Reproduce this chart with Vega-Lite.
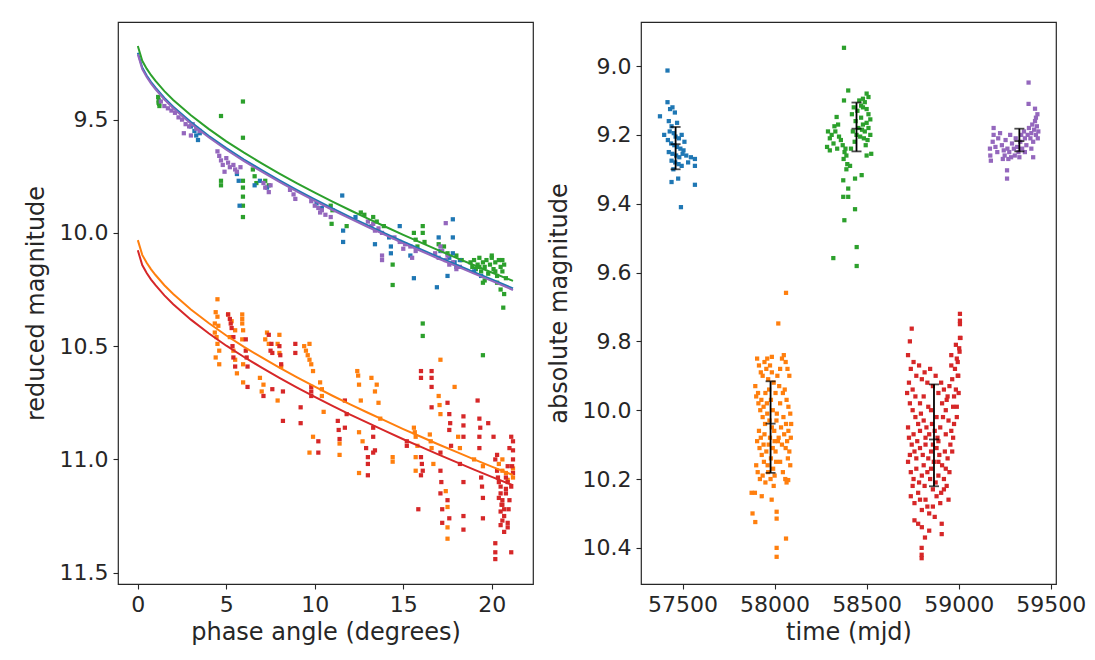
{
"$schema": "https://vega.github.io/schema/vega-lite/v6.json",
"background": "white",
"padding": {"left": 23, "top": 21, "right": 0, "bottom": 0},
"config": {
  "font": "DejaVu Sans",
  "view": {"stroke": "#262626", "strokeWidth": 1.2},
  "axis": {"grid": false, "domain": false, "tickColor": "#262626", "tickSize": 5, "tickWidth": 1.1,
    "labelFont": "DejaVu Sans", "labelFontSize": 22, "labelColor": "#262626", "labelPadding": 5,
    "titleFont": "DejaVu Sans", "titleFontSize": 24, "titleFontWeight": "normal", "titleColor": "#262626",
    "labelOverlap": false},
  "axisY": {"titlePadding": 11},
  "axisX": {"titlePadding": 5},
  "concat": {"spacing": 12}
},
"datasets": {
"lp": [
{"c":"g","a":1.15,"m":9.40},{"c":"g","a":1.18,"m":9.415},{"c":"g","a":1.2,"m":9.43},{"c":"g","a":1.22,"m":9.44},{"c":"g","a":1.17,"m":9.425},
{"c":"g","a":4.7,"m":9.484},{"c":"g","a":4.7,"m":9.77},{"c":"g","a":4.7,"m":9.79},
{"c":"g","a":5.94,"m":9.42},{"c":"g","a":5.94,"m":9.58},{"c":"g","a":5.94,"m":9.77},{"c":"g","a":5.94,"m":9.80},{"c":"g","a":5.94,"m":9.84},{"c":"g","a":5.94,"m":9.88},{"c":"g","a":5.94,"m":9.93},
{"c":"g","a":6.5,"m":9.72},{"c":"g","a":6.6,"m":9.75},{"c":"g","a":6.7,"m":9.78},{"c":"g","a":7.2,"m":9.77},{"c":"g","a":7.4,"m":9.79},
{"c":"g","a":10.9,"m":9.88},{"c":"g","a":11.0,"m":9.90},{"c":"g","a":10.95,"m":9.96},{"c":"g","a":11.8,"m":9.97},
{"c":"g","a":12.6,"m":9.91},{"c":"g","a":12.8,"m":9.92},{"c":"g","a":13.3,"m":9.93},{"c":"g","a":13.5,"m":9.95},{"c":"g","a":13.9,"m":9.97},
{"c":"g","a":14.4,"m":10.14},{"c":"g","a":14.4,"m":10.23},
{"c":"g","a":15.6,"m":10.0},{"c":"g","a":15.7,"m":10.03},{"c":"g","a":15.8,"m":10.06},{"c":"g","a":16.1,"m":9.97},{"c":"g","a":16.1,"m":10.0},{"c":"g","a":16.2,"m":10.04},{"c":"g","a":16.1,"m":10.40},{"c":"g","a":16.1,"m":10.455},
{"c":"g","a":17.0,"m":10.05},{"c":"g","a":17.3,"m":10.06},{"c":"g","a":17.5,"m":10.09},{"c":"g","a":18.0,"m":10.1},{"c":"g","a":18.3,"m":10.12},
{"c":"g","a":18.8,"m":10.13},{"c":"g","a":18.9,"m":10.15},{"c":"g","a":19.0,"m":10.12},{"c":"g","a":19.1,"m":10.16},{"c":"g","a":19.2,"m":10.14},{"c":"g","a":19.3,"m":10.11},{"c":"g","a":19.4,"m":10.17},{"c":"g","a":19.5,"m":10.13},{"c":"g","a":19.6,"m":10.15},{"c":"g","a":19.7,"m":10.12},{"c":"g","a":19.8,"m":10.18},{"c":"g","a":19.9,"m":10.14},{"c":"g","a":20.0,"m":10.11},{"c":"g","a":20.1,"m":10.16},{"c":"g","a":20.2,"m":10.13},{"c":"g","a":20.3,"m":10.19},{"c":"g","a":20.4,"m":10.12},{"c":"g","a":20.5,"m":10.15},{"c":"g","a":20.6,"m":10.17},{"c":"g","a":20.7,"m":10.14},{"c":"g","a":20.8,"m":10.20},{"c":"g","a":20.3,"m":10.22},{"c":"g","a":19.6,"m":10.21},{"c":"g","a":20.5,"m":10.25},{"c":"g","a":20.7,"m":10.27},{"c":"g","a":20.65,"m":10.33},{"c":"g","a":20.0,"m":10.10},{"c":"g","a":19.5,"m":10.54},{"c":"g","a":19.5,"m":10.22},{"c":"g","a":20.2,"m":10.17},{"c":"g","a":19.3,"m":10.15},{"c":"g","a":20.6,"m":10.12},
{"c":"b","a":3.0,"m":9.53},{"c":"b","a":3.2,"m":9.55},{"c":"b","a":3.3,"m":9.57},{"c":"b","a":3.4,"m":9.59},{"c":"b","a":3.5,"m":9.56},
{"c":"b","a":5.6,"m":9.74},{"c":"b","a":5.7,"m":9.77},{"c":"b","a":5.75,"m":9.88},{"c":"b","a":6.6,"m":9.79},{"c":"b","a":6.9,"m":9.77},{"c":"b","a":7.3,"m":9.80},
{"c":"b","a":10.1,"m":9.87},{"c":"b","a":10.4,"m":9.89},{"c":"b","a":11.55,"m":9.835},{"c":"b","a":11.6,"m":9.99},{"c":"b","a":11.6,"m":10.04},
{"c":"b","a":12.3,"m":9.93},{"c":"b","a":13.4,"m":10.05},{"c":"b","a":14.2,"m":10.02},{"c":"b","a":14.3,"m":10.06},{"c":"b","a":14.3,"m":10.09},{"c":"b","a":14.8,"m":9.97},{"c":"b","a":15.6,"m":10.20},{"c":"b","a":15.4,"m":10.1},
{"c":"b","a":16.9,"m":10.24},{"c":"b","a":17.0,"m":10.02},{"c":"b","a":17.1,"m":10.08},{"c":"b","a":17.5,"m":10.19},{"c":"b","a":17.8,"m":9.94},{"c":"b","a":17.8,"m":10.02},{"c":"b","a":17.8,"m":10.09},{"c":"b","a":17.6,"m":10.11},{"c":"b","a":17.9,"m":10.13},{"c":"b","a":18.0,"m":10.15},{"c":"b","a":18.2,"m":10.12},{"c":"b","a":19.0,"m":10.17},{"c":"b","a":19.4,"m":10.19},
{"c":"p","a":1.3,"m":9.42},{"c":"p","a":1.5,"m":9.44},{"c":"p","a":1.7,"m":9.45},{"c":"p","a":1.9,"m":9.46},{"c":"p","a":2.1,"m":9.47},{"c":"p","a":2.3,"m":9.49},{"c":"p","a":2.5,"m":9.50},{"c":"p","a":2.7,"m":9.52},{"c":"p","a":2.9,"m":9.53},{"c":"p","a":3.1,"m":9.52},{"c":"p","a":3.3,"m":9.54},{"c":"p","a":3.5,"m":9.55},{"c":"p","a":2.6,"m":9.56},{"c":"p","a":3.0,"m":9.57},
{"c":"p","a":4.5,"m":9.64},{"c":"p","a":4.6,"m":9.66},{"c":"p","a":4.7,"m":9.68},{"c":"p","a":4.8,"m":9.70},{"c":"p","a":5.0,"m":9.67},{"c":"p","a":5.1,"m":9.69},{"c":"p","a":5.2,"m":9.71},{"c":"p","a":5.4,"m":9.70},{"c":"p","a":5.5,"m":9.72},{"c":"p","a":5.6,"m":9.73},{"c":"p","a":5.8,"m":9.71},{"c":"p","a":4.9,"m":9.73},
{"c":"p","a":7.1,"m":9.78},{"c":"p","a":7.2,"m":9.80},{"c":"p","a":7.4,"m":9.82},{"c":"p","a":7.5,"m":9.79},
{"c":"p","a":8.6,"m":9.81},{"c":"p","a":8.8,"m":9.83},{"c":"p","a":8.9,"m":9.85},
{"c":"p","a":9.8,"m":9.86},{"c":"p","a":10.0,"m":9.88},{"c":"p","a":10.2,"m":9.89},{"c":"p","a":10.4,"m":9.90},{"c":"p","a":10.6,"m":9.92},{"c":"p","a":10.9,"m":9.93},{"c":"p","a":10.3,"m":9.91},
{"c":"p","a":13.0,"m":9.95},{"c":"p","a":13.2,"m":9.97},{"c":"p","a":13.4,"m":9.99},{"c":"p","a":13.6,"m":9.98},{"c":"p","a":13.8,"m":10.0},{"c":"p","a":13.3,"m":9.96},{"c":"p","a":13.8,"m":10.1},{"c":"p","a":13.8,"m":10.12},
{"c":"p","a":14.5,"m":10.02},{"c":"p","a":14.8,"m":10.04},{"c":"p","a":15.1,"m":10.05},{"c":"p","a":15.4,"m":10.06},{"c":"p","a":15.7,"m":10.08},{"c":"p","a":15.0,"m":10.07},{"c":"p","a":15.5,"m":10.11},
{"c":"p","a":16.8,"m":10.09},{"c":"p","a":17.0,"m":10.11},{"c":"p","a":17.2,"m":10.08},{"c":"p","a":17.4,"m":10.12},{"c":"p","a":17.6,"m":10.14},{"c":"p","a":17.8,"m":10.13},{"c":"p","a":18.0,"m":10.16},{"c":"p","a":18.2,"m":10.15},{"c":"p","a":17.5,"m":10.10},{"c":"p","a":17.1,"m":10.06},{"c":"p","a":17.4,"m":9.957},
{"c":"o","a":4.5,"m":10.293},{"c":"o","a":4.4,"m":10.35},{"c":"o","a":4.5,"m":10.37},{"c":"o","a":4.35,"m":10.40},{"c":"o","a":4.35,"m":10.44},{"c":"o","a":4.5,"m":10.49},{"c":"o","a":4.6,"m":10.52},{"c":"o","a":4.4,"m":10.55},{"c":"o","a":4.6,"m":10.58},
{"c":"o","a":5.1,"m":10.36},{"c":"o","a":5.3,"m":10.39},{"c":"o","a":5.5,"m":10.43},{"c":"o","a":5.4,"m":10.52},{"c":"o","a":5.5,"m":10.56},{"c":"o","a":5.6,"m":10.62},
{"c":"o","a":5.9,"m":10.36},{"c":"o","a":5.9,"m":10.38},{"c":"o","a":5.9,"m":10.40},{"c":"o","a":5.9,"m":10.47},{"c":"o","a":5.95,"m":10.58},{"c":"o","a":5.95,"m":10.66},
{"c":"o","a":6.9,"m":10.64},{"c":"o","a":7.1,"m":10.67},{"c":"o","a":7.0,"m":10.70},{"c":"o","a":7.3,"m":10.44},{"c":"o","a":7.4,"m":10.49},
{"c":"o","a":7.9,"m":10.49},{"c":"o","a":8.0,"m":10.53},{"c":"o","a":8.1,"m":10.59},{"c":"o","a":7.9,"m":10.74},
{"c":"o","a":9.4,"m":10.50},{"c":"o","a":9.6,"m":10.54},{"c":"o","a":9.8,"m":10.58},{"c":"o","a":9.9,"m":10.61},{"c":"o","a":9.7,"m":10.49},{"c":"o","a":9.7,"m":10.97},{"c":"o","a":9.9,"m":10.90},
{"c":"o","a":10.3,"m":10.66},{"c":"o","a":10.4,"m":10.72},{"c":"o","a":10.5,"m":10.79},
{"c":"o","a":11.4,"m":10.93},{"c":"o","a":11.4,"m":10.98},
{"c":"o","a":12.4,"m":10.61},{"c":"o","a":12.5,"m":10.67},{"c":"o","a":12.6,"m":10.74},{"c":"o","a":12.5,"m":10.88},{"c":"o","a":12.7,"m":10.92},{"c":"o","a":12.5,"m":11.06},
{"c":"o","a":13.2,"m":10.64},{"c":"o","a":13.4,"m":10.70},{"c":"o","a":13.6,"m":10.75},{"c":"o","a":13.7,"m":10.82},
{"c":"o","a":14.4,"m":10.99},{"c":"o","a":14.4,"m":11.01},
{"c":"o","a":15.6,"m":10.86},{"c":"o","a":15.7,"m":10.90},{"c":"o","a":15.8,"m":10.94},{"c":"o","a":15.7,"m":10.99},{"c":"o","a":15.7,"m":11.05},
{"c":"o","a":16.5,"m":10.89},{"c":"o","a":16.6,"m":10.95},{"c":"o","a":16.7,"m":11.02},
{"c":"o","a":17.1,"m":10.56},{"c":"o","a":17.0,"m":10.72},{"c":"o","a":17.1,"m":10.80},
{"c":"o","a":17.4,"m":11.14},{"c":"o","a":17.5,"m":11.21},{"c":"o","a":17.5,"m":11.30},{"c":"o","a":17.5,"m":11.35},
{"c":"o","a":17.9,"m":10.68},{"c":"o","a":18.1,"m":10.90},{"c":"o","a":18.2,"m":10.95},
{"c":"o","a":19.0,"m":11.0},{"c":"o","a":19.5,"m":11.03},{"c":"o","a":20.4,"m":11.02},{"c":"o","a":20.8,"m":11.06},{"c":"o","a":21.2,"m":11.08},{"c":"o","a":20.6,"m":11.05},
{"c":"o","a":4.45,"m":10.46},{"c":"o","a":4.55,"m":10.41},{"c":"o","a":5.2,"m":10.46},{"c":"o","a":5.95,"m":10.43},{"c":"o","a":7.2,"m":10.47},{"c":"o","a":8.0,"m":10.45},{"c":"o","a":9.5,"m":10.52},{"c":"o","a":9.7,"m":10.56},{"c":"o","a":10.4,"m":10.69},{"c":"o","a":12.45,"m":10.63},{"c":"o","a":13.5,"m":10.67},{"c":"o","a":15.65,"m":10.88},{"c":"o","a":16.55,"m":10.92},{"c":"o","a":17.05,"m":10.76},{"c":"o","a":20.6,"m":11.0},{"c":"o","a":21.2,"m":11.04},{"c":"o","a":20.9,"m":11.09},
{"c":"r","a":5.1,"m":10.36},{"c":"r","a":5.2,"m":10.38},{"c":"r","a":5.3,"m":10.42},{"c":"r","a":5.4,"m":10.46},{"c":"r","a":5.4,"m":10.55},{"c":"r","a":5.5,"m":10.59},
{"c":"r","a":6.1,"m":10.47},{"c":"r","a":6.1,"m":10.52},{"c":"r","a":6.2,"m":10.59},{"c":"r","a":6.2,"m":10.68},
{"c":"r","a":7.1,"m":10.72},{"c":"r","a":7.4,"m":10.45},{"c":"r","a":7.5,"m":10.52},{"c":"r","a":7.6,"m":10.53},{"c":"r","a":7.6,"m":10.69},
{"c":"r","a":8.0,"m":10.50},{"c":"r","a":8.1,"m":10.58},{"c":"r","a":8.2,"m":10.70},{"c":"r","a":8.2,"m":10.83},
{"c":"r","a":8.9,"m":10.49},{"c":"r","a":8.9,"m":10.53},{"c":"r","a":9.2,"m":10.77},{"c":"r","a":9.2,"m":10.84},
{"c":"r","a":9.8,"m":10.68},{"c":"r","a":9.8,"m":10.72},{"c":"r","a":10.2,"m":10.92},{"c":"r","a":10.2,"m":10.97},
{"c":"r","a":11.3,"m":10.83},{"c":"r","a":11.4,"m":10.91},{"c":"r","a":11.7,"m":10.74},{"c":"r","a":11.8,"m":10.80},{"c":"r","a":11.7,"m":10.86},
{"c":"r","a":12.9,"m":10.95},{"c":"r","a":13.0,"m":11.02},{"c":"r","a":13.0,"m":11.07},
{"c":"r","a":13.3,"m":10.90},{"c":"r","a":13.3,"m":10.97},{"c":"r","a":13.3,"m":10.86},{"c":"r","a":13.4,"m":10.96},
{"c":"r","a":15.2,"m":10.92},{"c":"r","a":15.2,"m":10.94},{"c":"r","a":15.85,"m":11.22},
{"c":"r","a":16.0,"m":10.61},{"c":"r","a":16.0,"m":10.64},{"c":"r","a":16.0,"m":10.99},{"c":"r","a":16.0,"m":11.07},{"c":"r","a":16.1,"m":11.05},
{"c":"r","a":16.6,"m":10.61},{"c":"r","a":16.6,"m":10.64},{"c":"r","a":16.6,"m":10.68},{"c":"r","a":16.6,"m":10.77},
{"c":"r","a":17.1,"m":10.97},{"c":"r","a":17.1,"m":11.05},{"c":"r","a":17.1,"m":11.15},{"c":"r","a":17.2,"m":11.22},{"c":"r","a":17.2,"m":11.28},
{"c":"r","a":17.5,"m":10.75},{"c":"r","a":17.6,"m":10.80},{"c":"r","a":17.6,"m":10.87},{"c":"r","a":17.7,"m":10.94},{"c":"r","a":17.5,"m":11.18},{"c":"r","a":17.6,"m":11.26},
{"c":"r","a":18.2,"m":11.02},{"c":"r","a":18.4,"m":10.81},{"c":"r","a":18.4,"m":10.90},{"c":"r","a":18.4,"m":11.10},{"c":"r","a":18.4,"m":11.25},{"c":"r","a":18.4,"m":11.31},
{"c":"r","a":19.2,"m":10.74},{"c":"r","a":19.3,"m":10.82},{"c":"r","a":19.3,"m":10.90},{"c":"r","a":19.3,"m":10.95},{"c":"r","a":19.4,"m":11.08},{"c":"r","a":19.5,"m":11.17},{"c":"r","a":19.5,"m":11.26},{"c":"r","a":19.8,"m":10.84},
{"c":"r","a":20.2,"m":11.37},{"c":"r","a":20.2,"m":11.41},{"c":"r","a":20.2,"m":11.44},{"c":"r","a":21.1,"m":11.41},{"c":"r","a":20.9,"m":11.28},{"c":"r","a":20.9,"m":11.30},
{"c":"r","a":20.1,"m":10.9},{"c":"r","a":20.2,"m":11.0},{"c":"r","a":20.3,"m":11.05},{"c":"r","a":20.4,"m":11.1},{"c":"r","a":20.5,"m":11.12},{"c":"r","a":20.5,"m":11.15},{"c":"r","a":20.6,"m":11.18},{"c":"r","a":20.6,"m":11.2},{"c":"r","a":20.7,"m":11.22},{"c":"r","a":20.7,"m":11.25},{"c":"r","a":20.8,"m":11.13},{"c":"r","a":20.8,"m":11.08},{"c":"r","a":20.9,"m":11.03},{"c":"r","a":21.0,"m":10.95},{"c":"r","a":21.1,"m":10.9},{"c":"r","a":21.2,"m":10.92},{"c":"r","a":21.2,"m":11.0},{"c":"r","a":21.2,"m":11.06},{"c":"r","a":21.1,"m":11.12},{"c":"r","a":20.4,"m":11.17},{"c":"r","a":20.6,"m":11.27},{"c":"r","a":20.5,"m":11.23},{"c":"r","a":21.0,"m":11.18},{"c":"r","a":20.3,"m":10.98},{"c":"r","a":20.9,"m":11.1},
{"c":"r","a":5.25,"m":10.4},{"c":"r","a":5.35,"m":10.5},{"c":"r","a":6.15,"m":10.55},{"c":"r","a":7.55,"m":10.49},{"c":"r","a":8.05,"m":10.54},{"c":"r","a":9.8,"m":10.70},{"c":"r","a":11.35,"m":10.87},{"c":"r","a":13.0,"m":10.99},{"c":"r","a":16.05,"m":11.02},{"c":"r","a":17.15,"m":11.1},{"c":"r","a":17.65,"m":10.84},{"c":"r","a":18.4,"m":10.85},{"c":"r","a":19.35,"m":10.86},{"c":"r","a":19.45,"m":11.12},{"c":"r","a":20.35,"m":11.08},{"c":"r","a":20.55,"m":11.2},{"c":"r","a":20.8,"m":11.15},{"c":"r","a":21.2,"m":10.96},{"c":"r","a":21.15,"m":11.03},{"c":"r","a":20.95,"m":11.22},{"c":"r","a":20.5,"m":11.29},{"c":"r","a":20.7,"m":11.32}
],
"fit": [
{"c":"b","a":0,"m":9.205},{"c":"b","a":0.25,"m":9.270},{"c":"b","a":0.5,"m":9.305},{"c":"b","a":0.75,"m":9.334},{"c":"b","a":1,"m":9.359},{"c":"b","a":1.5,"m":9.404},{"c":"b","a":2,"m":9.443},{"c":"b","a":3,"m":9.511},{"c":"b","a":4,"m":9.571},{"c":"b","a":5,"m":9.626},{"c":"b","a":6,"m":9.676},{"c":"b","a":7,"m":9.723},{"c":"b","a":8,"m":9.768},{"c":"b","a":9,"m":9.811},{"c":"b","a":10,"m":9.852},{"c":"b","a":11,"m":9.892},{"c":"b","a":12,"m":9.930},{"c":"b","a":13,"m":9.967},{"c":"b","a":14,"m":10.003},{"c":"b","a":15,"m":10.039},{"c":"b","a":16,"m":10.073},{"c":"b","a":17,"m":10.107},{"c":"b","a":18,"m":10.140},{"c":"b","a":19,"m":10.173},{"c":"b","a":20,"m":10.205},{"c":"b","a":21.2,"m":10.245},
{"c":"o","a":0,"m":10.032},{"c":"o","a":0.25,"m":10.097},{"c":"o","a":0.5,"m":10.132},{"c":"o","a":0.75,"m":10.161},{"c":"o","a":1,"m":10.186},{"c":"o","a":1.5,"m":10.231},{"c":"o","a":2,"m":10.270},{"c":"o","a":3,"m":10.338},{"c":"o","a":4,"m":10.398},{"c":"o","a":5,"m":10.453},{"c":"o","a":6,"m":10.503},{"c":"o","a":7,"m":10.550},{"c":"o","a":8,"m":10.595},{"c":"o","a":9,"m":10.638},{"c":"o","a":10,"m":10.679},{"c":"o","a":11,"m":10.719},{"c":"o","a":12,"m":10.757},{"c":"o","a":13,"m":10.794},{"c":"o","a":14,"m":10.830},{"c":"o","a":15,"m":10.866},{"c":"o","a":16,"m":10.900},{"c":"o","a":17,"m":10.934},{"c":"o","a":18,"m":10.967},{"c":"o","a":19,"m":11.000},{"c":"o","a":20,"m":11.032},{"c":"o","a":21.2,"m":11.069},
{"c":"g","a":0,"m":9.175},{"c":"g","a":0.25,"m":9.240},{"c":"g","a":0.5,"m":9.275},{"c":"g","a":0.75,"m":9.304},{"c":"g","a":1,"m":9.329},{"c":"g","a":1.5,"m":9.374},{"c":"g","a":2,"m":9.413},{"c":"g","a":3,"m":9.481},{"c":"g","a":4,"m":9.541},{"c":"g","a":5,"m":9.596},{"c":"g","a":6,"m":9.646},{"c":"g","a":7,"m":9.693},{"c":"g","a":8,"m":9.738},{"c":"g","a":9,"m":9.781},{"c":"g","a":10,"m":9.822},{"c":"g","a":11,"m":9.862},{"c":"g","a":12,"m":9.900},{"c":"g","a":13,"m":9.937},{"c":"g","a":14,"m":9.973},{"c":"g","a":15,"m":10.009},{"c":"g","a":16,"m":10.043},{"c":"g","a":17,"m":10.077},{"c":"g","a":18,"m":10.110},{"c":"g","a":19,"m":10.143},{"c":"g","a":20,"m":10.175},{"c":"g","a":21.2,"m":10.212},
{"c":"r","a":0,"m":10.077},{"c":"r","a":0.25,"m":10.142},{"c":"r","a":0.5,"m":10.177},{"c":"r","a":0.75,"m":10.206},{"c":"r","a":1,"m":10.231},{"c":"r","a":1.5,"m":10.276},{"c":"r","a":2,"m":10.315},{"c":"r","a":3,"m":10.383},{"c":"r","a":4,"m":10.443},{"c":"r","a":5,"m":10.498},{"c":"r","a":6,"m":10.548},{"c":"r","a":7,"m":10.595},{"c":"r","a":8,"m":10.640},{"c":"r","a":9,"m":10.683},{"c":"r","a":10,"m":10.724},{"c":"r","a":11,"m":10.764},{"c":"r","a":12,"m":10.802},{"c":"r","a":13,"m":10.839},{"c":"r","a":14,"m":10.875},{"c":"r","a":15,"m":10.911},{"c":"r","a":16,"m":10.945},{"c":"r","a":17,"m":10.979},{"c":"r","a":18,"m":11.012},{"c":"r","a":19,"m":11.045},{"c":"r","a":20,"m":11.077},{"c":"r","a":21.2,"m":11.114},
{"c":"p","a":0,"m":9.212},{"c":"p","a":0.25,"m":9.277},{"c":"p","a":0.5,"m":9.312},{"c":"p","a":0.75,"m":9.341},{"c":"p","a":1,"m":9.366},{"c":"p","a":1.5,"m":9.411},{"c":"p","a":2,"m":9.450},{"c":"p","a":3,"m":9.518},{"c":"p","a":4,"m":9.578},{"c":"p","a":5,"m":9.633},{"c":"p","a":6,"m":9.683},{"c":"p","a":7,"m":9.730},{"c":"p","a":8,"m":9.775},{"c":"p","a":9,"m":9.818},{"c":"p","a":10,"m":9.859},{"c":"p","a":11,"m":9.899},{"c":"p","a":12,"m":9.937},{"c":"p","a":13,"m":9.974},{"c":"p","a":14,"m":10.010},{"c":"p","a":15,"m":10.046},{"c":"p","a":16,"m":10.080},{"c":"p","a":17,"m":10.114},{"c":"p","a":18,"m":10.147},{"c":"p","a":19,"m":10.180},{"c":"p","a":20,"m":10.212},{"c":"p","a":21.2,"m":10.252}
],
"rp": [
{"c":"b","t":57418,"m":9.013},{"c":"b","t":57377,"m":9.146},{"c":"b","t":57418,"m":9.105},{"c":"b","t":57432,"m":9.125},{"c":"b","t":57445,"m":9.12},{"c":"b","t":57458,"m":9.135},{"c":"b","t":57425,"m":9.16},{"c":"b","t":57440,"m":9.175},{"c":"b","t":57470,"m":9.165},{"c":"b","t":57430,"m":9.19},{"c":"b","t":57452,"m":9.195},{"c":"b","t":57462,"m":9.205},{"c":"b","t":57480,"m":9.21},{"c":"b","t":57495,"m":9.20},{"c":"b","t":57420,"m":9.215},{"c":"b","t":57438,"m":9.225},{"c":"b","t":57455,"m":9.23},{"c":"b","t":57470,"m":9.235},{"c":"b","t":57488,"m":9.24},{"c":"b","t":57505,"m":9.245},{"c":"b","t":57425,"m":9.25},{"c":"b","t":57445,"m":9.255},{"c":"b","t":57465,"m":9.26},{"c":"b","t":57482,"m":9.265},{"c":"b","t":57500,"m":9.255},{"c":"b","t":57520,"m":9.26},{"c":"b","t":57440,"m":9.275},{"c":"b","t":57460,"m":9.28},{"c":"b","t":57478,"m":9.285},{"c":"b","t":57495,"m":9.29},{"c":"b","t":57545,"m":9.265},{"c":"b","t":57567,"m":9.27},{"c":"b","t":57567,"m":9.29},{"c":"b","t":57530,"m":9.28},{"c":"b","t":57440,"m":9.337},{"c":"b","t":57476,"m":9.327},{"c":"b","t":57567,"m":9.345},{"c":"b","t":57491,"m":9.41},{"c":"b","t":57450,"m":9.30},{"c":"b","t":57510,"m":9.22},{"c":"b","t":57400,"m":9.2},
{"c":"g","t":58377,"m":8.947},{"c":"g","t":58400,"m":9.071},{"c":"g","t":58377,"m":9.10},{"c":"g","t":58337,"m":9.148},{"c":"g","t":58290,"m":9.19},{"c":"g","t":58300,"m":9.21},{"c":"g","t":58310,"m":9.2},{"c":"g","t":58320,"m":9.225},{"c":"g","t":58330,"m":9.19},{"c":"g","t":58340,"m":9.24},{"c":"g","t":58350,"m":9.205},{"c":"g","t":58360,"m":9.215},{"c":"g","t":58370,"m":9.23},{"c":"g","t":58285,"m":9.235},{"c":"g","t":58300,"m":9.245},{"c":"g","t":58345,"m":9.17},{"c":"g","t":58325,"m":9.175},{"c":"g","t":58380,"m":9.25},{"c":"g","t":58390,"m":9.26},{"c":"g","t":58375,"m":9.27},{"c":"g","t":58395,"m":9.285},{"c":"g","t":58385,"m":9.24},{"c":"g","t":58420,"m":9.14},{"c":"g","t":58430,"m":9.12},{"c":"g","t":58440,"m":9.16},{"c":"g","t":58450,"m":9.13},{"c":"g","t":58460,"m":9.10},{"c":"g","t":58470,"m":9.115},{"c":"g","t":58480,"m":9.095},{"c":"g","t":58490,"m":9.105},{"c":"g","t":58500,"m":9.125},{"c":"g","t":58510,"m":9.14},{"c":"g","t":58520,"m":9.155},{"c":"g","t":58470,"m":9.15},{"c":"g","t":58480,"m":9.17},{"c":"g","t":58490,"m":9.19},{"c":"g","t":58500,"m":9.165},{"c":"g","t":58510,"m":9.18},{"c":"g","t":58520,"m":9.2},{"c":"g","t":58505,"m":9.215},{"c":"g","t":58495,"m":9.23},{"c":"g","t":58485,"m":9.21},{"c":"g","t":58475,"m":9.185},{"c":"g","t":58465,"m":9.205},{"c":"g","t":58455,"m":9.18},{"c":"g","t":58445,"m":9.2},{"c":"g","t":58435,"m":9.22},{"c":"g","t":58425,"m":9.19},{"c":"g","t":58415,"m":9.24},{"c":"g","t":58525,"m":9.255},{"c":"g","t":58500,"m":9.26},{"c":"g","t":58510,"m":9.09},{"c":"g","t":58500,"m":9.08},{"c":"g","t":58480,"m":9.12},{"c":"g","t":58373,"m":9.332},{"c":"g","t":58437,"m":9.327},{"c":"g","t":58473,"m":9.317},{"c":"g","t":58400,"m":9.356},{"c":"g","t":58400,"m":9.38},{"c":"g","t":58373,"m":9.38},{"c":"g","t":58437,"m":9.416},{"c":"g","t":58379,"m":9.448},{"c":"g","t":58446,"m":9.526},{"c":"g","t":58319,"m":9.558},{"c":"g","t":58446,"m":9.581},{"c":"g","t":58410,"m":9.29},{"c":"g","t":58390,"m":9.3},
{"c":"p","t":59170,"m":9.24},{"c":"p","t":59172,"m":9.26},{"c":"p","t":59175,"m":9.275},{"c":"p","t":59185,"m":9.22},{"c":"p","t":59190,"m":9.2},{"c":"p","t":59200,"m":9.235},{"c":"p","t":59210,"m":9.25},{"c":"p","t":59215,"m":9.21},{"c":"p","t":59225,"m":9.195},{"c":"p","t":59235,"m":9.23},{"c":"p","t":59245,"m":9.245},{"c":"p","t":59250,"m":9.26},{"c":"p","t":59255,"m":9.215},{"c":"p","t":59265,"m":9.24},{"c":"p","t":59270,"m":9.27},{"c":"p","t":59275,"m":9.25},{"c":"p","t":59280,"m":9.2},{"c":"p","t":59290,"m":9.225},{"c":"p","t":59300,"m":9.24},{"c":"p","t":59305,"m":9.26},{"c":"p","t":59310,"m":9.21},{"c":"p","t":59318,"m":9.235},{"c":"p","t":59325,"m":9.25},{"c":"p","t":59335,"m":9.22},{"c":"p","t":59340,"m":9.2},{"c":"p","t":59345,"m":9.24},{"c":"p","t":59355,"m":9.19},{"c":"p","t":59360,"m":9.21},{"c":"p","t":59368,"m":9.23},{"c":"p","t":59375,"m":9.2},{"c":"p","t":59382,"m":9.18},{"c":"p","t":59390,"m":9.21},{"c":"p","t":59395,"m":9.195},{"c":"p","t":59400,"m":9.17},{"c":"p","t":59405,"m":9.22},{"c":"p","t":59410,"m":9.185},{"c":"p","t":59415,"m":9.16},{"c":"p","t":59420,"m":9.2},{"c":"p","t":59425,"m":9.175},{"c":"p","t":59430,"m":9.21},{"c":"p","t":59433,"m":9.19},{"c":"p","t":59420,"m":9.15},{"c":"p","t":59428,"m":9.14},{"c":"p","t":59380,"m":9.048},{"c":"p","t":59380,"m":9.11},{"c":"p","t":59415,"m":9.124},{"c":"p","t":59263,"m":9.303},{"c":"p","t":59263,"m":9.327},{"c":"p","t":59190,"m":9.18},{"c":"p","t":59240,"m":9.27},{"c":"p","t":59285,"m":9.265},{"c":"p","t":59330,"m":9.265},{"c":"p","t":59360,"m":9.25},{"c":"p","t":59395,"m":9.24},{"c":"p","t":59405,"m":9.265},
{"c":"o","t":57905,"m":9.85},{"c":"o","t":57915,"m":9.87},{"c":"o","t":57925,"m":9.89},{"c":"o","t":57935,"m":9.90},{"c":"o","t":57945,"m":9.86},{"c":"o","t":57955,"m":9.88},{"c":"o","t":57965,"m":9.91},{"c":"o","t":57975,"m":9.87},{"c":"o","t":57985,"m":9.89},{"c":"o","t":57995,"m":9.92},{"c":"o","t":58005,"m":9.95},{"c":"o","t":58015,"m":9.90},{"c":"o","t":58025,"m":9.93},{"c":"o","t":58040,"m":9.85},{"c":"o","t":58050,"m":9.84},{"c":"o","t":58060,"m":9.86},{"c":"o","t":58070,"m":9.88},{"c":"o","t":58080,"m":9.90},{"c":"o","t":58055,"m":9.94},{"c":"o","t":58065,"m":9.97},{"c":"o","t":58075,"m":9.99},{"c":"o","t":58085,"m":10.01},{"c":"o","t":57900,"m":9.96},{"c":"o","t":57912,"m":9.98},{"c":"o","t":57922,"m":10.0},{"c":"o","t":57935,"m":10.02},{"c":"o","t":57948,"m":10.04},{"c":"o","t":57960,"m":10.01},{"c":"o","t":57972,"m":10.03},{"c":"o","t":57985,"m":10.05},{"c":"o","t":57998,"m":10.06},{"c":"o","t":58010,"m":10.03},{"c":"o","t":58022,"m":10.08},{"c":"o","t":58035,"m":10.05},{"c":"o","t":58048,"m":10.02},{"c":"o","t":58062,"m":10.04},{"c":"o","t":58075,"m":10.06},{"c":"o","t":58088,"m":10.08},{"c":"o","t":57905,"m":10.09},{"c":"o","t":57918,"m":10.11},{"c":"o","t":57930,"m":10.13},{"c":"o","t":57942,"m":10.15},{"c":"o","t":57955,"m":10.12},{"c":"o","t":57968,"m":10.10},{"c":"o","t":57980,"m":10.14},{"c":"o","t":57992,"m":10.17},{"c":"o","t":58005,"m":10.12},{"c":"o","t":58018,"m":10.09},{"c":"o","t":58030,"m":10.15},{"c":"o","t":58060,"m":10.11},{"c":"o","t":58072,"m":10.14},{"c":"o","t":58085,"m":10.16},{"c":"o","t":57908,"m":10.18},{"c":"o","t":57920,"m":10.20},{"c":"o","t":57935,"m":10.19},{"c":"o","t":57950,"m":10.21},{"c":"o","t":57965,"m":10.18},{"c":"o","t":57978,"m":10.2},{"c":"o","t":58000,"m":10.19},{"c":"o","t":58065,"m":10.21},{"c":"o","t":58074,"m":10.203},{"c":"o","t":58030,"m":9.98},{"c":"o","t":57950,"m":9.95},{"c":"o","t":57980,"m":9.97},
{"c":"o","t":57895,"m":9.93},{"c":"o","t":57910,"m":9.95},{"c":"o","t":57928,"m":9.97},{"c":"o","t":57940,"m":9.99},{"c":"o","t":57958,"m":9.98},{"c":"o","t":57970,"m":9.94},{"c":"o","t":57990,"m":10.0},{"c":"o","t":58000,"m":10.09},{"c":"o","t":58012,"m":10.01},{"c":"o","t":58040,"m":10.1},{"c":"o","t":58052,"m":10.07},{"c":"o","t":58068,"m":10.09},{"c":"o","t":58080,"m":10.12},{"c":"o","t":58090,"m":10.04},{"c":"o","t":57915,"m":10.06},{"c":"o","t":57925,"m":10.08},{"c":"o","t":57945,"m":10.07},{"c":"o","t":57962,"m":10.16},{"c":"o","t":57975,"m":10.08},{"c":"o","t":57990,"m":10.11},{"c":"o","t":58008,"m":10.15},{"c":"o","t":58045,"m":10.18},{"c":"o","t":58058,"m":10.2},{"c":"o","t":57900,"m":10.16},{"c":"o","t":57940,"m":10.1},{"c":"o","t":57995,"m":10.22},{"c":"o","t":57960,"m":9.85},{"c":"o","t":57985,"m":9.845},{"c":"o","t":58030,"m":9.88},{"c":"o","t":58045,"m":9.95},
{"c":"o","t":58062,"m":9.659},{"c":"o","t":58020,"m":9.748},{"c":"o","t":57875,"m":10.24},{"c":"o","t":57893,"m":10.24},{"c":"o","t":57880,"m":10.30},{"c":"o","t":57895,"m":10.325},{"c":"o","t":57930,"m":10.25},{"c":"o","t":57984,"m":10.26},{"c":"o","t":58011,"m":10.295},{"c":"o","t":58011,"m":10.315},{"c":"o","t":58062,"m":10.373},{"c":"o","t":58011,"m":10.40},{"c":"o","t":58011,"m":10.426},
{"c":"r","t":58725,"m":9.84},{"c":"r","t":58740,"m":9.88},{"c":"r","t":58755,"m":9.86},{"c":"r","t":58770,"m":9.9},{"c":"r","t":58785,"m":9.87},{"c":"r","t":58800,"m":9.91},{"c":"r","t":58815,"m":9.89},{"c":"r","t":58830,"m":9.92},{"c":"r","t":58845,"m":9.88},{"c":"r","t":58860,"m":9.93},{"c":"r","t":58875,"m":9.9},{"c":"r","t":58890,"m":9.95},{"c":"r","t":58905,"m":9.92},{"c":"r","t":58920,"m":9.94},{"c":"r","t":58935,"m":9.97},{"c":"r","t":58950,"m":9.93},{"c":"r","t":58965,"m":9.91},{"c":"r","t":58980,"m":9.88},{"c":"r","t":58995,"m":9.86},{"c":"r","t":59005,"m":9.83},{"c":"r","t":59010,"m":9.79},{"c":"r","t":58960,"m":9.84},{"c":"r","t":58975,"m":9.96},{"c":"r","t":58990,"m":9.99},{"c":"r","t":59000,"m":9.95},
{"c":"r","t":58720,"m":9.95},{"c":"r","t":58735,"m":9.98},{"c":"r","t":58750,"m":10.0},{"c":"r","t":58765,"m":10.02},{"c":"r","t":58780,"m":10.04},{"c":"r","t":58795,"m":10.01},{"c":"r","t":58810,"m":10.03},{"c":"r","t":58825,"m":10.05},{"c":"r","t":58840,"m":10.07},{"c":"r","t":58855,"m":10.04},{"c":"r","t":58870,"m":10.06},{"c":"r","t":58885,"m":10.08},{"c":"r","t":58900,"m":10.05},{"c":"r","t":58915,"m":10.02},{"c":"r","t":58930,"m":10.0},{"c":"r","t":58945,"m":10.03},{"c":"r","t":58960,"m":10.06},{"c":"r","t":58975,"m":10.04},{"c":"r","t":58990,"m":10.02},
{"c":"r","t":58730,"m":10.08},{"c":"r","t":58745,"m":10.1},{"c":"r","t":58760,"m":10.12},{"c":"r","t":58775,"m":10.09},{"c":"r","t":58790,"m":10.11},{"c":"r","t":58805,"m":10.13},{"c":"r","t":58820,"m":10.1},{"c":"r","t":58835,"m":10.14},{"c":"r","t":58850,"m":10.12},{"c":"r","t":58865,"m":10.15},{"c":"r","t":58880,"m":10.11},{"c":"r","t":58895,"m":10.13},{"c":"r","t":58910,"m":10.16},{"c":"r","t":58925,"m":10.12},{"c":"r","t":58940,"m":10.14},{"c":"r","t":58955,"m":10.1},{"c":"r","t":58970,"m":10.08},
{"c":"r","t":58725,"m":10.15},{"c":"r","t":58740,"m":10.18},{"c":"r","t":58755,"m":10.2},{"c":"r","t":58770,"m":10.17},{"c":"r","t":58785,"m":10.21},{"c":"r","t":58800,"m":10.19},{"c":"r","t":58815,"m":10.22},{"c":"r","t":58830,"m":10.18},{"c":"r","t":58845,"m":10.2},{"c":"r","t":58860,"m":10.23},{"c":"r","t":58875,"m":10.21},{"c":"r","t":58890,"m":10.19},{"c":"r","t":58905,"m":10.24},{"c":"r","t":58920,"m":10.2},{"c":"r","t":58935,"m":10.22},{"c":"r","t":58950,"m":10.18},
{"c":"r","t":58740,"m":10.25},{"c":"r","t":58760,"m":10.27},{"c":"r","t":58780,"m":10.24},{"c":"r","t":58800,"m":10.29},{"c":"r","t":58820,"m":10.26},{"c":"r","t":58840,"m":10.3},{"c":"r","t":58860,"m":10.28},{"c":"r","t":58880,"m":10.25},{"c":"r","t":58900,"m":10.27},{"c":"r","t":58920,"m":10.23},{"c":"r","t":58945,"m":10.26},{"c":"r","t":58780,"m":10.33},{"c":"r","t":58800,"m":10.34},{"c":"r","t":58908,"m":10.33},{"c":"r","t":58908,"m":10.36},{"c":"r","t":58817,"m":10.37},{"c":"r","t":58799,"m":10.40},{"c":"r","t":58799,"m":10.42},{"c":"r","t":58799,"m":10.43},
{"c":"r","t":58745,"m":9.763},{"c":"r","t":59007,"m":9.72},{"c":"r","t":59007,"m":9.74},{"c":"r","t":59007,"m":9.75},{"c":"r","t":59007,"m":9.79},{"c":"r","t":58990,"m":9.85},{"c":"r","t":58960,"m":9.87},{"c":"r","t":58735,"m":9.80},
{"c":"r","t":58730,"m":9.92},{"c":"r","t":58750,"m":9.94},{"c":"r","t":58765,"m":9.96},{"c":"r","t":58790,"m":9.98},{"c":"r","t":58810,"m":9.96},{"c":"r","t":58835,"m":9.99},{"c":"r","t":58850,"m":10.0},{"c":"r","t":58880,"m":10.02},{"c":"r","t":58910,"m":9.98},{"c":"r","t":58940,"m":9.96},{"c":"r","t":58970,"m":9.99},{"c":"r","t":58985,"m":9.94},{"c":"r","t":58998,"m":9.9},{"c":"r","t":58725,"m":10.05},{"c":"r","t":58755,"m":10.07},{"c":"r","t":58790,"m":10.06},{"c":"r","t":58820,"m":10.08},{"c":"r","t":58860,"m":10.1},{"c":"r","t":58890,"m":10.09},{"c":"r","t":58930,"m":10.07},{"c":"r","t":58965,"m":10.12},{"c":"r","t":58735,"m":10.13},{"c":"r","t":58770,"m":10.14},{"c":"r","t":58810,"m":10.16},{"c":"r","t":58850,"m":10.17},{"c":"r","t":58890,"m":10.15},{"c":"r","t":58930,"m":10.17},{"c":"r","t":58750,"m":10.22},{"c":"r","t":58790,"m":10.26},{"c":"r","t":58830,"m":10.28},{"c":"r","t":58870,"m":10.31},{"c":"r","t":58760,"m":10.32},{"c":"r","t":58840,"m":10.35},{"c":"r","t":59003,"m":9.82},{"c":"r","t":58985,"m":9.81},{"c":"r","t":58995,"m":9.9}
],
"eb": [
{"c":"b","t":57462,"mean":9.227,"lo":9.177,"hi":9.30},
{"c":"o","t":57978,"mean":10.039,"lo":9.916,"hi":10.182},
{"c":"g","t":58445,"mean":9.182,"lo":9.106,"hi":9.248},
{"c":"r","t":58866,"mean":10.085,"lo":9.925,"hi":10.221},
{"c":"p","t":59330,"mean":9.218,"lo":9.182,"hi":9.248}
]
},
"hconcat": [
{
  "width": 415, "height": 562,
  "layer": [
    {"data": {"name": "lp"},
     "mark": {"type": "square", "size": 18, "opacity": 1},
     "encoding": {
       "x": {"field": "a", "type": "quantitative", "title": "phase angle (degrees)",
             "scale": {"domain": [-1.12, 22.33], "nice": false, "zero": false},
             "axis": {"values": [0, 5, 10, 15, 20], "format": "d"}},
       "y": {"field": "m", "type": "quantitative", "title": "reduced magnitude",
             "scale": {"domain": [9.069, 11.55], "nice": false, "zero": false, "reverse": true},
             "axis": {"values": [9.5, 10, 10.5, 11, 11.5], "format": ".1f"}},
       "color": {"field": "c", "type": "nominal", "legend": null,
                 "scale": {"domain": ["b","o","g","r","p"], "range": ["#1f77b4","#ff7f0e","#2ca02c","#d62728","#9467bd"]}}
     }},
    {"data": {"name": "fit"},
     "mark": {"type": "line", "strokeWidth": 2},
     "encoding": {
       "x": {"field": "a", "type": "quantitative", "title": "phase angle (degrees)",
             "scale": {"domain": [-1.12, 22.33], "nice": false, "zero": false}},
       "y": {"field": "m", "type": "quantitative", "title": "reduced magnitude",
             "scale": {"domain": [9.069, 11.55], "nice": false, "zero": false, "reverse": true}},
       "color": {"field": "c", "type": "nominal", "legend": null,
                 "scale": {"domain": ["b","o","g","r","p"], "range": ["#1f77b4","#ff7f0e","#2ca02c","#d62728","#9467bd"]}}
     }}
  ]
},
{
  "width": 415, "height": 562,
  "layer": [
    {"data": {"name": "rp"},
     "mark": {"type": "square", "size": 18, "opacity": 1},
     "encoding": {
       "x": {"field": "t", "type": "quantitative", "title": "time (mjd)",
             "scale": {"domain": [57274, 59529], "nice": false, "zero": false},
             "axis": {"values": [57500, 58000, 58500, 59000, 59500], "format": "d"}},
       "y": {"field": "m", "type": "quantitative", "title": "absolute magnitude",
             "scale": {"domain": [8.872, 10.505], "nice": false, "zero": false, "reverse": true},
             "axis": {"values": [9.0, 9.2, 9.4, 9.6, 9.8, 10.0, 10.2, 10.4], "format": ".1f"}},
       "color": {"field": "c", "type": "nominal", "legend": null,
                 "scale": {"domain": ["b","o","g","r","p"], "range": ["#1f77b4","#ff7f0e","#2ca02c","#d62728","#9467bd"]}}
     }},
    {"data": {"name": "eb"},
     "mark": {"type": "rule", "color": "black", "strokeWidth": 1.8},
     "encoding": {
       "x": {"field": "t", "type": "quantitative", "title": "time (mjd)",
             "scale": {"domain": [57274, 59529], "nice": false, "zero": false}},
       "y": {"field": "lo", "type": "quantitative", "title": "absolute magnitude",
             "scale": {"domain": [8.872, 10.505], "nice": false, "zero": false, "reverse": true}},
       "y2": {"field": "hi"}
     }},
    {"data": {"name": "eb"},
     "transform": [{"fold": ["lo", "hi", "mean"], "as": ["k", "v"]}],
     "mark": {"type": "tick", "orient": "horizontal", "color": "black", "size": 10, "thickness": 1.8},
     "encoding": {
       "x": {"field": "t", "type": "quantitative", "title": "time (mjd)",
             "scale": {"domain": [57274, 59529], "nice": false, "zero": false}},
       "y": {"field": "v", "type": "quantitative", "title": "absolute magnitude",
             "scale": {"domain": [8.872, 10.505], "nice": false, "zero": false, "reverse": true}}
     }}
  ]
}
]
}
